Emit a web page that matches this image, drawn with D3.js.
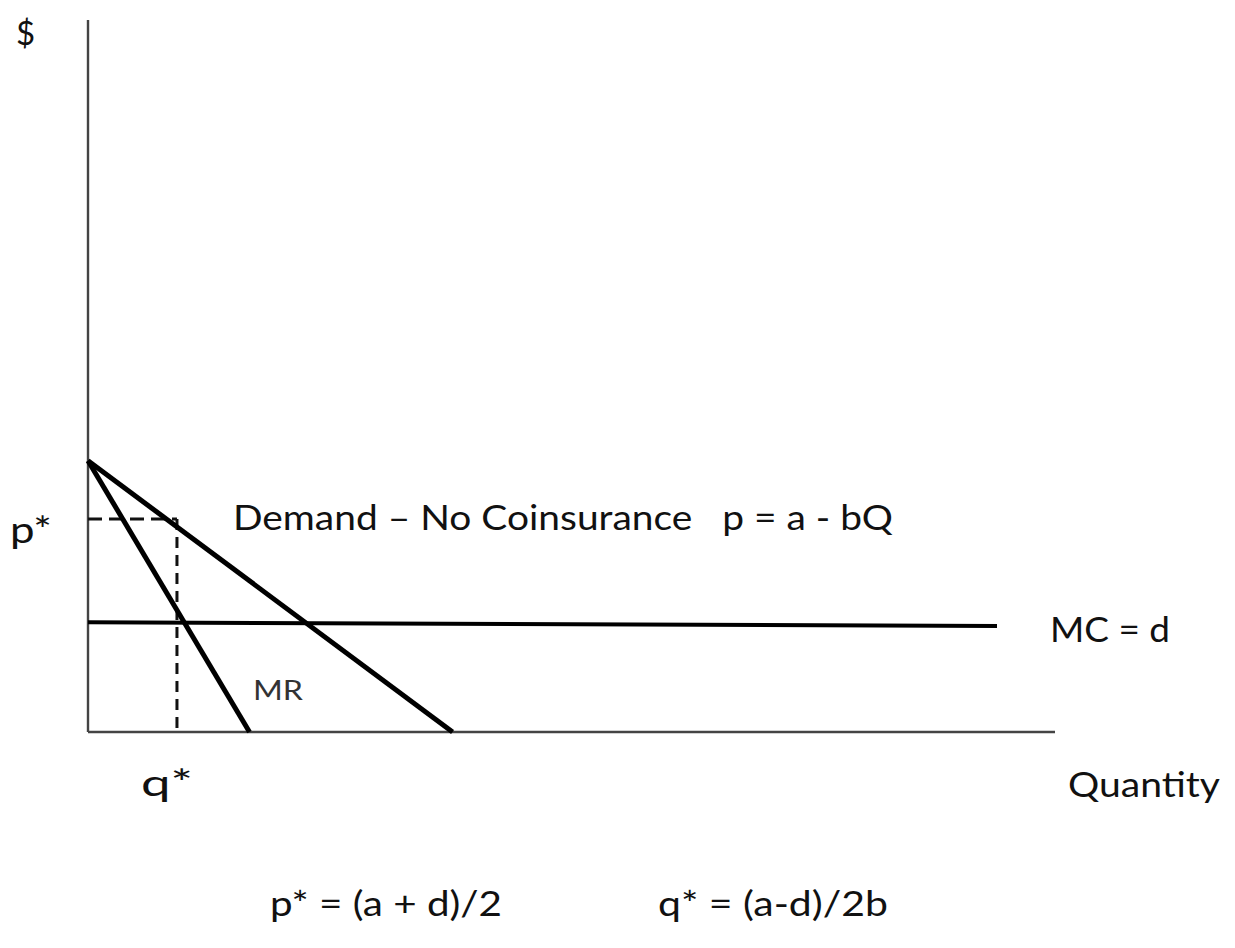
<!DOCTYPE html>
<html>
<head>
<meta charset="utf-8">
<script src="https://cdn.jsdelivr.net/npm/d3@7"></script>
<style>
  body { margin: 0; background: #fff; }
  text { font-family: Lato, "Open Sans", sans-serif; fill: #111; white-space: pre; }
</style>
</head>
<body>
<svg id="chart" width="1235" height="948"></svg>
<script>
// data, in chart units (quantity 0-100, price 0-100)
const demand = [[0, 38.1], [37.7, 0]];
const marginalRevenue = [[0, 38.1], [16.7, 0]];
const marginalCost = [[0, 15.4], [94.0, 14.9]];
const pStar = 29.9;
const qStar = 9.2;
const formulas = ["p* = (a + d)/2", "q* = (a-d)/2b"];

const svg = d3.select("#chart");

const x = d3.scaleLinear().domain([0, 100]).range([88, 1055]);
const y = d3.scaleLinear().domain([0, 100]).range([732, 20]);

const line = d3.line().x(d => x(d[0])).y(d => y(d[1]));

// axes, drawn as plain lines like the original sketch
svg.append("line")
  .attr("x1", x(0)).attr("x2", x(0))
  .attr("y1", y(0)).attr("y2", y(100))
  .attr("stroke", "#444").attr("stroke-width", 2.4);

svg.append("line")
  .attr("x1", x(0)).attr("x2", x(100))
  .attr("y1", y(0)).attr("y2", y(0))
  .attr("stroke", "#444").attr("stroke-width", 2.4);

// dashed guides for p* and q*
svg.append("path")
  .attr("d", line([[0, pStar], [qStar, pStar]]))
  .attr("fill", "none")
  .attr("stroke", "#111")
  .attr("stroke-width", 3)
  .attr("stroke-dasharray", "14,7");

svg.append("path")
  .attr("d", line([[qStar, pStar], [qStar, 0]]))
  .attr("fill", "none")
  .attr("stroke", "#111")
  .attr("stroke-width", 3)
  .attr("stroke-dasharray", "11,7");

// curves
[demand, marginalRevenue].forEach(pts => {
  svg.append("path")
    .attr("d", line(pts))
    .attr("fill", "none")
    .attr("stroke", "#000")
    .attr("stroke-width", 5);
});

svg.append("path")
  .attr("d", line(marginalCost))
  .attr("fill", "none")
  .attr("stroke", "#000")
  .attr("stroke-width", 4);

// labels
function label(txt, px, py, size, opts = {}) {
  const t = svg.append("text")
    .attr("x", px).attr("y", py)
    .attr("font-size", size)
    .text(txt);
  if (opts.width) t.attr("textLength", opts.width).attr("lengthAdjust", "spacingAndGlyphs");
  if (opts.fill) t.style("fill", opts.fill);
  return t;
}

label("$", 16, 45, 33);
label("p*", 10, 543, 36, { width: 42 });
label("Demand \u2013 No Coinsurance   p = a - bQ", 233, 530, 35, { width: 660 });
label("MC = d", 1050, 642, 35, { width: 120 });
label("MR", 253, 700, 26, { width: 50, fill: "#333" });
label("q*", 141, 796, 36, { width: 52 });
label("Quantity", 1068, 797, 34, { width: 152 });
label(formulas[0], 270, 916, 34, { width: 232 });
label(formulas[1], 658, 916, 34, { width: 230 });
</script>
</body>
</html>
